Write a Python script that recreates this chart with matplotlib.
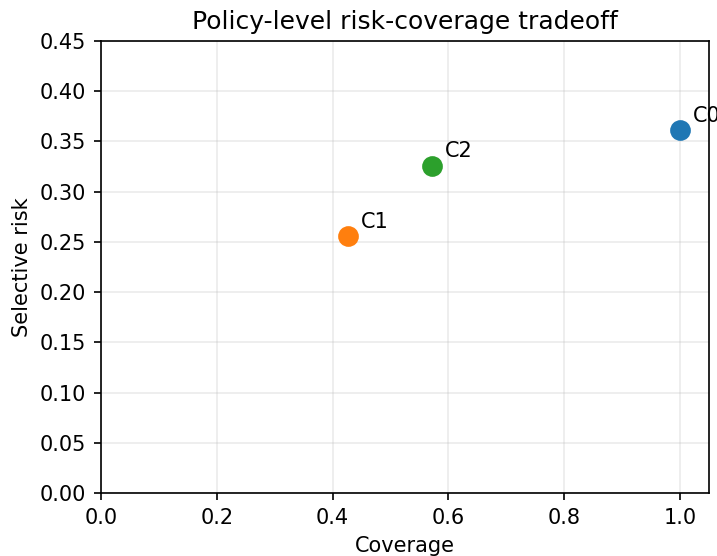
import matplotlib
matplotlib.use("Agg")
import matplotlib.pyplot as plt

# coverage / selective risk for each policy
policies = ["C0", "C1", "C2"]
coverage = [1.0, 0.427, 0.572]
risk = [0.361, 0.256, 0.326]
colors = ["#1f77b4", "#ff7f0e", "#2ca02c"]

fig = plt.figure(figsize=(717 / 150, 556 / 150), dpi=150)
ax = fig.add_axes([101 / 717, 1 - 493 / 556, 608 / 717, 452 / 556])

for name, x, y, c in zip(policies, coverage, risk, colors):
    ax.scatter(x, y, s=80, color=c, zorder=3)
    ax.annotate(name, (x, y), xytext=(6, 4), textcoords="offset points")

ax.set_xlim(0, 1.05)
ax.set_ylim(0, 0.45)
ax.set_xticks([0.0, 0.2, 0.4, 0.6, 0.8, 1.0])
ax.set_yticks([i * 0.05 for i in range(10)])
ax.grid(True, alpha=0.25)
ax.set_xlabel("Coverage")
ax.set_ylabel("Selective risk")
ax.set_title("Policy-level risk-coverage tradeoff")

fig.savefig("out.png", dpi=150)
